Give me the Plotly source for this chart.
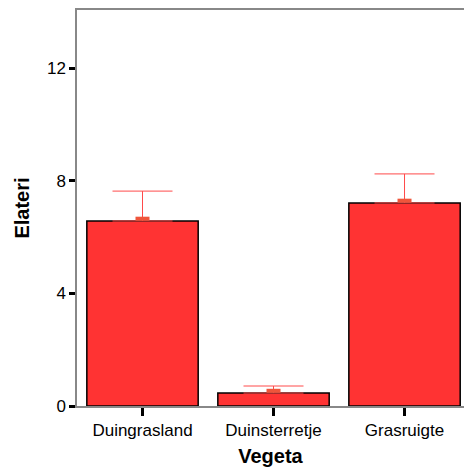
import plotly.graph_objects as go

# Mean Elateri per vegetation type, with upper error
categories = ["Duingrasland", "Duinsterretje", "Grasruigte"]
means = [6.57, 0.46, 7.21]
upper_err = [1.06, 0.25, 1.03]
y_ticks = [0, 4, 8, 12]

# small offset so the mean marker sits just above the bar outline
marker_lift = 0.08

fig = go.Figure()

fig.add_trace(go.Bar(
    x=categories,
    y=means,
    width=0.85,
    marker=dict(color="#ff3333", line=dict(color="black", width=1.5)),
    error_y=dict(
        type="data",
        symmetric=False,
        array=upper_err,
        arrayminus=[0] * len(means),
        color="#ff4a4a",
        thickness=1,
        width=30,
    ),
    showlegend=False,
))

# small mean marker on top of each bar
fig.add_trace(go.Scatter(
    x=categories,
    y=[m + marker_lift for m in means],
    mode="markers",
    marker=dict(symbol="line-ew-open", size=10,
                line=dict(color="#ff3a3a", width=4)),
    showlegend=False,
    hoverinfo="skip",
))

fig.update_layout(
    width=464,
    height=468,
    margin=dict(l=77, r=0, t=10, b=62),
    plot_bgcolor="white",
    paper_bgcolor="white",
    font=dict(family="Liberation Sans, Arial, sans-serif", size=17, color="black"),
    bargap=0.15,
)

fig.update_xaxes(
    range=[-0.5, 2.454],
    showline=True,
    linecolor="#888888",
    linewidth=1.5,
    mirror=True,
    ticks="outside",
    ticklen=8,
    tickwidth=2.5,
    tickcolor="black",
    showgrid=False,
    title=dict(text="<b>Vegeta</b>", font=dict(size=20), standoff=10),
)

fig.update_yaxes(
    range=[0, 14.06],
    tickvals=y_ticks,
    showline=True,
    linecolor="#888888",
    linewidth=1.5,
    ticks="outside",
    ticklen=6,
    tickwidth=2.5,
    tickcolor="black",
    showgrid=False,
    zeroline=False,
    title=dict(text="<b>Elateri</b>", font=dict(size=20), standoff=12),
)

fig.write_html("out.html")
